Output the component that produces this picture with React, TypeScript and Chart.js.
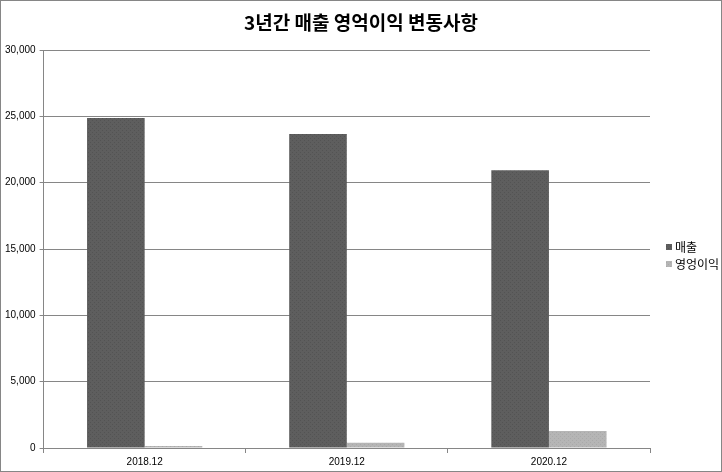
import React, { useEffect, useRef } from "react";
import { Chart, registerables } from "chart.js";

Chart.register(...registerables);

const categories = ["2018.12", "2019.12", "2020.12"];
const salesValues = [24870, 23660, 20940];
const opProfitValues = [150, 390, 1285];
const seriesNames = ["매출", "영엉이익"];
const titleText = "3년간 매출 영억이익 변동사항";
const yMax = 30000;
const yStep = 5000;

function makePattern(base: string, dot: string): CanvasPattern | string {
  const c = document.createElement("canvas");
  c.width = 4;
  c.height = 4;
  const ctx = c.getContext("2d");
  if (!ctx) return base;
  ctx.fillStyle = base;
  ctx.fillRect(0, 0, 4, 4);
  ctx.fillStyle = dot;
  ctx.fillRect(0, 0, 1, 1);
  ctx.fillRect(2, 2, 1, 1);
  const p = ctx.createPattern(c, "repeat");
  return p || base;
}

const borderPlugin = {
  id: "outerBorder",
  afterDraw(chart: any) {
    const ctx = chart.ctx;
    ctx.save();
    ctx.strokeStyle = "#868686";
    ctx.lineWidth = 1;
    ctx.strokeRect(0.5, 0.5, chart.width - 1, chart.height - 1);
    ctx.restore();
  },
};

const titlePlugin = {
  id: "centeredTitle",
  afterDraw(chart: any) {
    const ctx = chart.ctx;
    ctx.save();
    ctx.font = "bold 19px 'Noto Sans CJK KR', sans-serif";
    ctx.fillStyle = "#000";
    ctx.textAlign = "center";
    ctx.textBaseline = "middle";
    ctx.fillText(titleText, chart.width / 2, 23);
    ctx.restore();
  },
};

const sideLegendPlugin = {
  id: "sideLegend",
  afterDraw(chart: any) {
    const ctx = chart.ctx;
    const area = chart.chartArea;
    const mid = (area.top + area.bottom) / 2;
    const x = area.right + 16;
    ctx.save();
    ctx.font = "12px 'Noto Sans CJK KR', sans-serif";
    ctx.textBaseline = "middle";
    ctx.textAlign = "left";
    chart.data.datasets.forEach((ds: any, i: number) => {
      const y = mid - 2 + i * 17;
      ctx.fillStyle = ds.backgroundColor;
      ctx.fillRect(x, y - 3, 6, 6);
      ctx.fillStyle = "#000";
      ctx.fillText(ds.label, x + 9, y);
    });
    ctx.restore();
  },
};

export default function App() {
  const ref = useRef<HTMLCanvasElement>(null);
  useEffect(() => {
    if (!ref.current) return;
    const darkFill = makePattern("#5e5e5e", "#535353");
    const lightFill = makePattern("#b5b5b5", "#a9a9a9");
    const chart = new Chart(ref.current, {
      type: "bar",
      data: {
        labels: categories,
        datasets: [
          {
            label: seriesNames[0],
            data: salesValues,
            backgroundColor: darkFill as any,
            borderWidth: 0,
            barPercentage: 1,
            categoryPercentage: 0.57,
          },
          {
            label: seriesNames[1],
            data: opProfitValues,
            backgroundColor: lightFill as any,
            borderWidth: 0,
            barPercentage: 1,
            categoryPercentage: 0.57,
          },
        ],
      },
      options: {
        animation: false,
        responsive: false,
        maintainAspectRatio: false,
        layout: { padding: { left: 1, right: 72, top: 50, bottom: 1 } },
        plugins: {
          title: { display: false },
          legend: { display: false },
          tooltip: { enabled: false },
        },
        scales: {
          x: {
            grid: {
              display: true,
              drawOnChartArea: false,
              drawTicks: true,
              tickLength: 5,
              color: "#868686",
              offset: true,
            },
            border: { display: true, color: "#868686" },
            ticks: {
              color: "#000",
              font: { family: "'Liberation Sans', Arial, sans-serif", size: 10 },
              padding: 3,
            },
          },
          y: {
            min: 0,
            max: yMax,
            grid: { color: "#868686", tickLength: 4, drawTicks: true },
            border: { display: true, color: "#868686" },
            ticks: {
              stepSize: yStep,
              color: "#000",
              padding: 4,
              font: { family: "'Liberation Sans', Arial, sans-serif", size: 10 },
              callback: (v: any) => Number(v).toLocaleString("en-US"),
            },
          },
        },
      },
      plugins: [borderPlugin, titlePlugin, sideLegendPlugin],
    });
    return () => chart.destroy();
  }, []);
  return (
    <div style={{ position: "absolute", left: 0, top: 0, width: 722, height: 472, background: "#fff" }}>
      <canvas ref={ref} width={722} height={472} style={{ width: 722, height: 472, display: "block" }} />
    </div>
  );
}
